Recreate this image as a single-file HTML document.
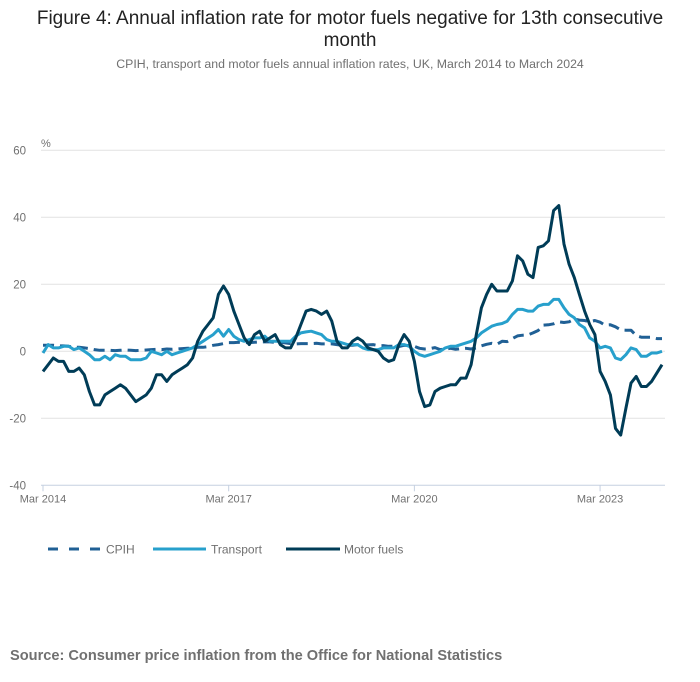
<!DOCTYPE html>
<html><head><meta charset="utf-8"><style>
body{margin:0;background:#fff;font-family:"Liberation Sans",sans-serif;}
#wrap{position:relative;width:700px;height:682px;overflow:hidden}
</style></head><body>
<div id="wrap">
<svg id="svg" width="700" height="682">
<text x="350" y="24" text-anchor="middle" font-size="19" fill="#222">Figure 4: Annual inflation rate for motor fuels negative for 13th consecutive</text>
<text x="350" y="46" text-anchor="middle" font-size="19" fill="#222">month</text>
<text x="350" y="68" text-anchor="middle" font-size="12.3" fill="#707070">CPIH, transport and motor fuels annual inflation rates, UK, March 2014 to March 2024</text>
<text x="41" y="147" font-size="11" fill="#707070">%</text>
<g id="grid"></g><g id="series"></g><g id="xaxis"></g>
<g>
<line x1="48" y1="549" x2="102" y2="549" stroke="#206095" stroke-width="3" stroke-dasharray="10,11"/>
<text x="106" y="553.5" font-size="12" fill="#707070">CPIH</text>
<line x1="153" y1="549" x2="206" y2="549" stroke="#27a0cc" stroke-width="3"/>
<text x="211" y="553.5" font-size="12" fill="#707070">Transport</text>
<line x1="286" y1="549" x2="340" y2="549" stroke="#003c57" stroke-width="3"/>
<text x="344" y="553.5" font-size="12" fill="#707070">Motor fuels</text>
</g>
<text x="10" y="660" font-size="14.6" font-weight="bold" fill="#707070">Source: Consumer price inflation from the Office for National Statistics</text>
</svg></div>
<script>
const yTicks=[60,40,20,0,-20,-40];
const xTickLabels=["Mar 2014","Mar 2017","Mar 2020","Mar 2023"];
const xTickIdx=[0,36,72,108];
const cpih=[1.8,1.8,1.8,1.6,1.6,1.5,1.2,1.2,1,0.8,
0.5,0.3,0.3,0.3,0.2,0.3,0.4,0.3,0.2,0.3,0.4,0.5,
0.6,0.5,0.7,0.6,0.7,0.8,0.9,0.9,1.2,1.2,1.4,1.8,
2,2.3,2.6,2.6,2.7,2.6,2.6,2.7,2.8,2.8,2.8,2.7,
2.7,2.5,2.3,2.2,2.3,2.3,2.3,2.4,2.2,2.2,2.2,2,
1.8,1.8,1.8,2,1.9,1.9,2,1.7,1.7,1.5,1.5,1.4,
1.8,1.7,1.5,0.9,0.7,0.8,1.1,0.5,0.7,0.9,0.6,0.8,
0.9,0.7,1,1.6,2.1,2.4,2.1,3,2.9,3.8,4.6,4.8,
4.9,5.5,6.2,7.8,7.9,8.2,8.8,8.6,8.8,9.6,9.3,9.2,
8.8,9.2,8.7,7.8,7.9,7.3,6.4,6.3,6.3,4.7,4.2,4.2,
4.2,3.8,3.8];
const transport=[-0.5,2,1,1,1.5,1.5,0.5,1,0,-1,
-2.5,-2.5,-1.5,-2.5,-1,-1.5,-1.5,-2.5,-2.5,-2.5,-2,0,
-0.5,-1,0,-1,-0.5,0,0.5,1,2,3,4,5,
6.5,4.5,6.5,4.5,3.5,3,3.5,4,4,4.5,3,3,
3,3,3,4.5,5.5,5.8,6,5.5,5,3.5,3,3,
2.5,2,2,2,1,0.5,0.5,0.5,1,1,1,2,
2,1.5,0,-1,-1.5,-1,-0.5,0,1,1.5,1.5,2,
2.5,3,4,5.5,6.5,7.5,8,8.3,9,11,12.5,12.5,
12,12,13.5,14,14,15.5,15.5,13,11,10,8,7,
4,3,1,1.5,1,-2,-2.5,-1,1,0.5,-1.5,-1.5,
-0.5,-0.5,0];
const motorFuels=[-6,-4,-2,-3,-3,-6,-6,-5,-7,-12,
-16,-16,-13,-12,-11,-10,-11,-13,-15,-14,-13,-11,
-7,-7,-9,-7,-6,-5,-4,-2,3,6,8,10,
17,19.5,17,12,8,4,2,5,6,3,4,5,
2,1,1,4,8,12,12.5,12,11,12,9,3,
1,1,3,4,3,1,0.5,0,-2,-3,-2.5,2,
5,3,-3,-12,-16.5,-16,-12,-11,-10.5,-10,-10,-8,
-8,-4,5,13,17,20,18,18,18,21,28.5,27,
23,22,31,31.5,33,42,43.5,32,26,22,17,12,
8,5,-6,-9,-13,-23,-25,-17,-9.5,-7.5,-10.5,-10.5,
-9,-6.5,-4];
const NS="http://www.w3.org/2000/svg";
const x0=43,dx=5.158,xL=41,xR=665;
function X(i){return x0+i*dx;}
function Y(v){return 351.3-v*3.35;}
function mk(t,a){const e=document.createElementNS(NS,t);for(const k in a)e.setAttribute(k,a[k]);return e;}
const grid=document.getElementById('grid');
yTicks.forEach(v=>{
  const l=mk('line',{x1:xL,x2:xR,y1:Y(v),y2:Y(v),stroke:v===-40?'#c5d0e0':'#e2e2e2','stroke-width':1});
  
  
  grid.appendChild(l);
  const t=mk('text',{x:26,y:Y(v)+4,'text-anchor':'end','font-size':11.5,fill:'#707070'});
  t.textContent=String(v);
  
  
  grid.appendChild(t);
});
const xa=document.getElementById('xaxis');
xTickIdx.forEach((i,k)=>{
  const l=mk('line',{x1:X(i),x2:X(i),y1:Y(-40),y2:Y(-40)+6,stroke:'#c5d0e0'});
  
  
  xa.appendChild(l);
  const t=mk('text',{x:X(i),y:Y(-40)+17,'text-anchor':'middle','font-size':11,fill:'#707070'});
  t.textContent=xTickLabels[k];
  
  
  xa.appendChild(t);
});
const sg=document.getElementById('series');
function line(d,col,dash,name){
  const p=mk('polyline',{points:d.map((v,i)=>X(i).toFixed(1)+','+Y(v).toFixed(1)).join(' '),fill:'none',stroke:col,'stroke-width':3,'stroke-linejoin':'round'});
  if(dash)p.setAttribute('stroke-dasharray',dash);
  
  
  sg.appendChild(p);
}
line(cpih,'#206095','11,6','cpih-line');
line(transport,'#27a0cc',null,'transport-line');
line(motorFuels,'#003c57',null,'motor-fuels-line');
</script>
</body></html>
